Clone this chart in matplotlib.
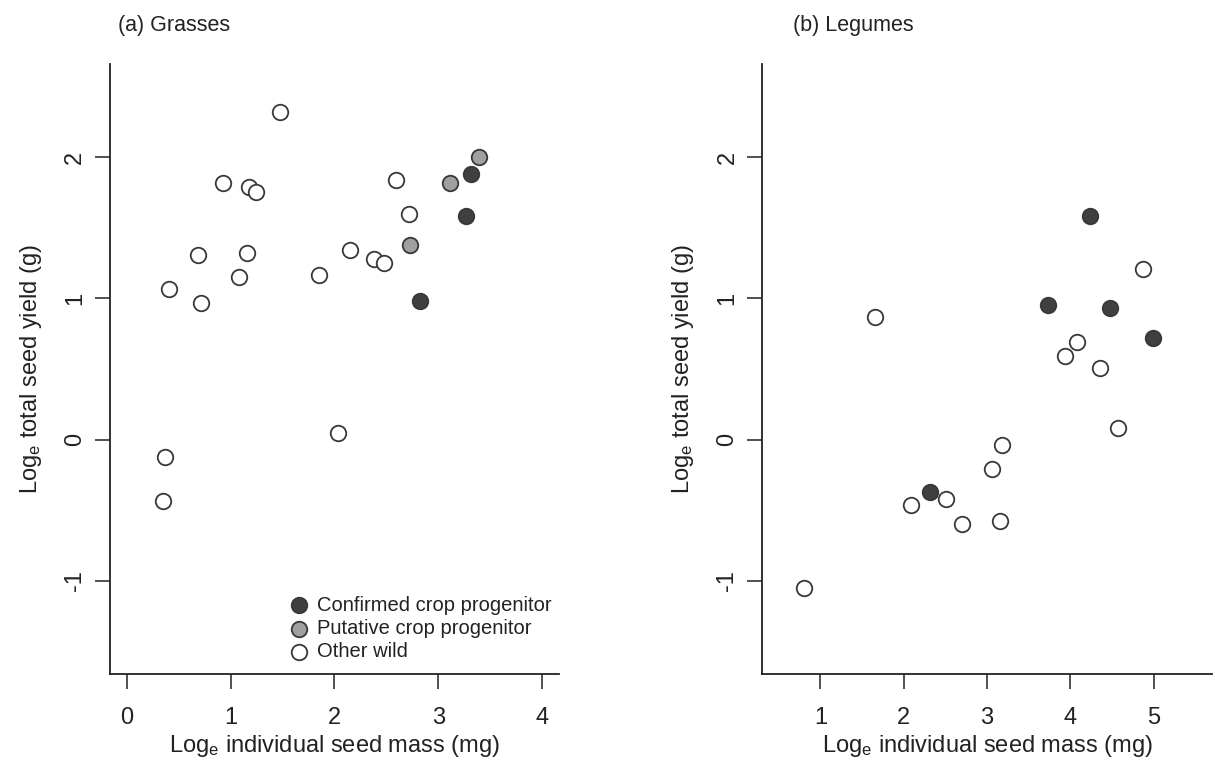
import matplotlib
matplotlib.use("Agg")
import matplotlib.pyplot as plt

plt.rcParams['font.family'] = ['Liberation Sans', 'DejaVu Sans']
plt.rcParams['mathtext.default'] = 'regular'
plt.rcParams['axes.unicode_minus'] = False

# (a) Grasses
grass_conf_x = [3.31, 3.27, 2.82]
grass_conf_y = [1.88, 1.58, 0.98]
grass_put_x = [3.39, 3.11, 2.73]
grass_put_y = [2.00, 1.82, 1.38]
grass_wild_x = [1.48, 0.93, 1.18, 1.25, 2.59, 2.72, 0.69, 1.16, 2.15, 2.38,
                2.48, 1.08, 1.85, 0.41, 0.72, 0.37, 0.355, 2.03]
grass_wild_y = [2.32, 1.82, 1.79, 1.75, 1.84, 1.60, 1.31, 1.32, 1.34, 1.28,
                1.25, 1.15, 1.165, 1.066, 0.965, -0.12, -0.435, 0.05]

# (b) Legumes
leg_conf_x = [4.24, 3.73, 4.48, 4.99, 2.32]
leg_conf_y = [1.58, 0.95, 0.93, 0.72, -0.37]
leg_wild_x = [4.87, 1.65, 4.08, 3.93, 4.36, 4.57, 3.18, 3.06, 2.51, 2.09,
              2.70, 3.16, 0.80]
leg_wild_y = [1.21, 0.865, 0.69, 0.59, 0.51, 0.08, -0.04, -0.21, -0.42, -0.46,
              -0.60, -0.58, -1.05]

labels = ['Confirmed crop progenitor', 'Putative crop progenitor', 'Other wild']
fills = ['#404040', '#a0a0a0', 'white']
edge = '#383838'
msize = 125

fig = plt.figure(figsize=(12.15, 7.68), dpi=100)
ax1 = fig.add_axes([0.0905, 0.1224, 0.3695, 0.7943])
ax2 = fig.add_axes([0.6272, 0.1224, 0.3704, 0.7943])


def style_axes(ax, xticks):
    for side in ['top', 'right']:
        ax.spines[side].set_visible(False)
    for side in ['left', 'bottom']:
        ax.spines[side].set_linewidth(1.3)
        ax.spines[side].set_color('#222222')
    ax.set_ylim(-1.66, 2.66)
    ax.set_yticks([-1, 0, 1, 2])
    ax.set_xticks(xticks)
    ax.tick_params(axis='both', direction='out', length=11, width=1.1,
                   color='#222222', labelsize=17, labelcolor='#222222')
    ax.tick_params(axis='x', pad=13)
    ax.tick_params(axis='y', pad=6)
    for t in ax.get_yticklabels():
        t.set_rotation(90)
        t.set_va('center')
    ax.set_xlabel('Log$_e$ individual seed mass (mg)', fontsize=17,
                  color='#222222', labelpad=3)
    ax.set_ylabel('Log$_e$ total seed yield (g)', fontsize=17,
                  color='#222222', labelpad=15)


ax1.scatter(grass_wild_x, grass_wild_y, s=msize, c=fills[2], edgecolors=edge,
            linewidths=1.3, label=labels[2], zorder=3)
ax1.scatter(grass_put_x, grass_put_y, s=msize, c=fills[1], edgecolors=edge,
            linewidths=1.3, label=labels[1], zorder=3)
ax1.scatter(grass_conf_x, grass_conf_y, s=msize, c=fills[0], edgecolors=edge,
            linewidths=1.3, label=labels[0], zorder=3)
ax1.set_xlim(-0.16, 4.16)
style_axes(ax1, [0, 1, 2, 3, 4])

handles, labs = ax1.get_legend_handles_labels()
order = [2, 1, 0]
ax1.legend([handles[i] for i in order], [labs[i] for i in order],
           loc='center left', bbox_to_anchor=(0.2379, 0.1819),
           bbox_transform=fig.transFigure, frameon=False, fontsize=14.5,
           borderpad=0, borderaxespad=0, handlelength=1.0,
           handletextpad=0.4, labelspacing=0.2, labelcolor='#222222')

ax2.scatter(leg_wild_x, leg_wild_y, s=msize, c=fills[2], edgecolors=edge,
            linewidths=1.3, zorder=3)
ax2.scatter(leg_conf_x, leg_conf_y, s=msize, c=fills[0], edgecolors=edge,
            linewidths=1.3, zorder=3)
ax2.set_xlim(0.3, 5.7)
style_axes(ax2, [1, 2, 3, 4, 5])

fig.text(118 / 1215, 1 - 25 / 768, '(a) Grasses', fontsize=15.5,
         ha='left', va='center', color='#222222')
fig.text(793 / 1215, 1 - 25 / 768, '(b) Legumes', fontsize=15.5,
         ha='left', va='center', color='#222222')

fig.savefig('out.png', dpi=100)
